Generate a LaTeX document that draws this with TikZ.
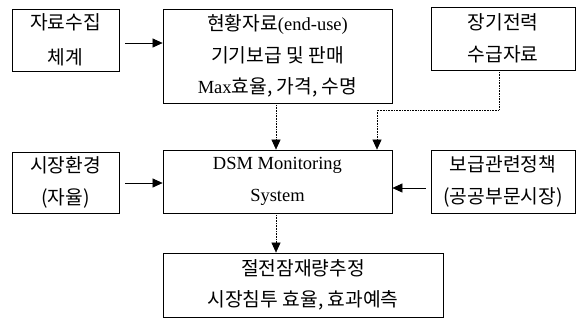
\documentclass[tikz,border=0pt]{standalone}
\usepackage{fontspec}
\setmainfont{Liberation Serif}
\newfontfamily\kr[Scale=1.04]{Noto Sans CJK KR}
\usetikzlibrary{arrows.meta}
\tikzstyle{blk}=[draw,line width=.8pt,inner sep=0pt,align=center,font=\fontsize{18.5}{31.5}\selectfont]
\tikzstyle{link}=[line width=.6pt,-{Triangle[length=10pt,width=9pt]}]
\tikzstyle{faint}=[densely dotted]
\begin{document}
\begin{tikzpicture}[x=1pt,y=-1pt]
	\useasboundingbox (0,0) rectangle (579,322);
	% upper row
	\node[blk,minimum width=107,minimum height=62] (collect) at (65.5,40)  {\kr 자료수집\\[3pt]\kr 체계};
	\node[blk,minimum width=229,minimum height=94] (status)  at (277.5,56) {{\kr 현황자료}(end-use)\\\kr 기기보급 및 판매\\Max{\kr 효율, 가격, 수명}};
	\node[blk,minimum width=144,minimum height=63] (supply)  at (503,38.5) {\kr 장기전력\\\kr 수급자료};
	% middle row
	\node[blk,minimum width=107,minimum height=61] (market)  at (65.5,182.5) {\kr 시장환경\\\kr (자율)};
	\node[blk,minimum width=229,minimum height=63] (dsm)     at (277.5,181.5) {DSM Monitoring\\System};
	\node[blk,minimum width=144,minimum height=63] (policy)  at (503,181.5)   {\kr 보급관련정책\\\kr (공공부문시장)};
	% result
	\node[blk,minimum width=280,minimum height=64] (saving)  at (303,285)  {\kr 절전잠재량추정\\\kr 시장침투 효율, 효과예측};
	\coordinate (bend) at (377,110);
	\draw[link,shorten <=6pt] (collect.east |- 0,43) -- (status.west |- 0,43);
	\draw[link,shorten <=6pt] (market.east |- 0,183) -- (dsm.west |- 0,183);
	\draw[link,shorten <=5pt] (policy.west |- 0,188) -- (dsm.east |- 0,188);
	\draw[link,faint] (status.south -| 276,0) -- (dsm.north -| 276,0);
	\draw[link,faint] (supply.south -| 499,0) -- (499,0 |- bend) -- (bend) -- (dsm.north -| bend);
	\draw[link,faint] (dsm.south -| 276,0) -- (saving.north -| 276,0);
\end{tikzpicture}
\end{document}
